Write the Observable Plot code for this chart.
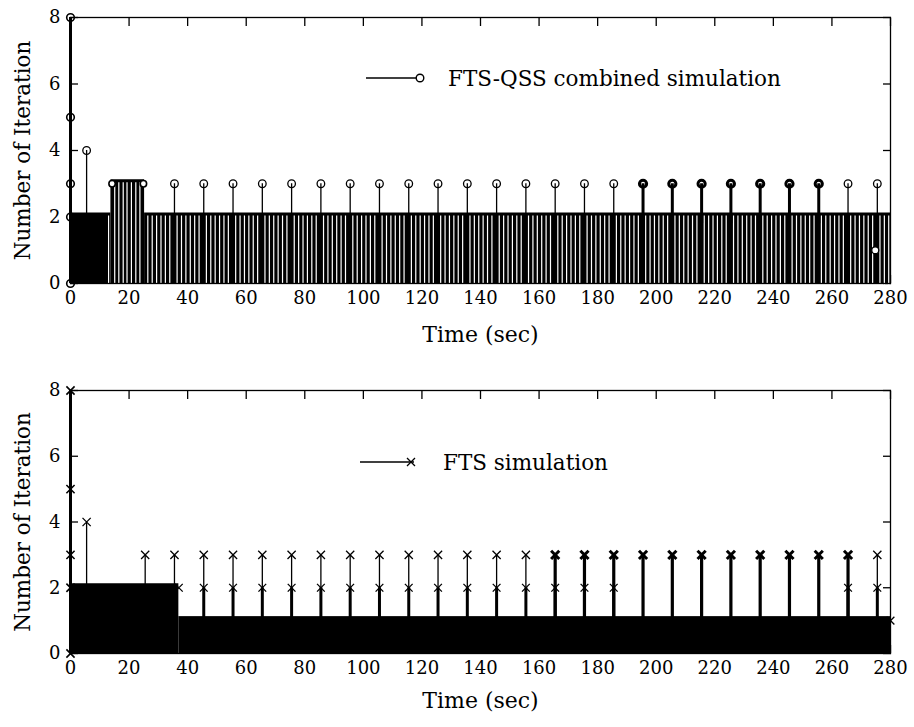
<!DOCTYPE html>
<html>
<head>
<meta charset="utf-8">
<script src="https://cdn.jsdelivr.net/npm/d3@7"></script>
<script src="https://cdn.jsdelivr.net/npm/@observablehq/plot@0.6"></script>
<style>
  body { margin: 0; background: #fff; }
  #wrap { position: relative; width: 914px; height: 727px; font-family: "DejaVu Serif", serif; color: #000; }
  #wrap > svg { position: absolute; left: 0; }
  .legend { position: absolute; display: flex; align-items: center; font-size: 21.5px; font-family: "DejaVu Serif", serif; color: #000; white-space: nowrap; }
  .legend svg { display: block; overflow: visible; }
</style>
</head>
<body>
<div id="wrap"></div>
<script>
// ---------- shared ticks ----------
const xTicks = [0, 20, 40, 60, 80, 100, 120, 140, 160, 180, 200, 220, 240, 260, 280];
const yTicks = [0, 2, 4, 6, 8];
const xLabel = "Time (sec)";
const yLabel = "Number of Iteration";

// ---------- top panel: FTS-QSS combined simulation ----------
const topLegend = "FTS-QSS combined simulation";
const topBlockStart = [0, 13.8, 25.3];      // dense stems (seen as filled area)
const topBlockEnd   = [13.8, 25.3, 280];
const topBlockLevel = [2, 3, 2];
const topPeakEnds   = [14.2, 24.9];          // first/last markers of the dense level-3 run
const topStartValues = [8, 5, 3, 2, 0];      // iterations at t = 0
const topEarlyTime = [5.5];
const topEarlyValue = [4];
const topStem3 = [35.5, 45.5, 55.5, 65.5, 75.5, 85.5, 95.5, 105.5, 115.5, 125.5, 135.5,
                  145.5, 155.5, 165.5, 175.5, 185.5, 265.5, 275.5];
const topStem3Double = [195.5, 205.5, 215.5, 225.5, 235.5, 245.5, 255.5];
const topLowTime = [274.8];
const topLowValue = [1];
// gaps between the dense stems
const topGapFixed = [13.0, 15.1, 16.5, 18.0, 19.3, 20.8, 22.3, 23.7];
const topCycleStart = [25.5, 35.5, 45.5, 55.5, 65.5, 75.5, 85.5, 95.5, 105.5, 115.5, 125.5,
                       135.5, 145.5, 155.5, 165.5, 175.5, 185.5, 195.5, 205.5, 215.5, 225.5,
                       235.5, 245.5, 255.5, 265.5, 275.5];
const topCycleGapOffset = [0.9, 2.4, 3.9, 5.4, 6.9, 8.4];

// ---------- bottom panel: FTS simulation ----------
const botLegend = "FTS simulation";
const botBlockStart = [0, 37];
const botBlockEnd   = [37, 280];
const botBlockLevel = [2, 1];
const botStartValues = [8, 5, 3, 2, 0];
const botEarlyTime = [5.5];
const botEarlyValue = [4];
const botStem3 = [25.5, 35.5, 45.5, 55.5, 65.5, 75.5, 85.5, 95.5, 105.5, 115.5, 125.5,
                  135.5, 145.5, 155.5, 275.5];
const botStem3Double = [165.5, 175.5, 185.5, 195.5, 205.5, 215.5, 225.5, 235.5, 245.5, 255.5, 265.5];
const botStem2 = [45.5, 55.5, 65.5, 75.5, 85.5, 95.5, 105.5, 115.5, 125.5, 135.5, 145.5,
                  155.5, 165.5, 175.5, 185.5, 265.5, 275.5];
const botEdgeTime = [37, 280];
const botEdgeValue = [2, 1];

// ---------- helpers ----------
function blocks(starts, ends, levels) {
  return starts.map((s, i) => ({x1: s, x2: ends[i], y: levels[i]}));
}
function levelAt(bl, t) {
  const b = bl.find(d => t >= d.x1 && t < d.x2);
  return b ? b.y : 0;
}

const topBlocks = blocks(topBlockStart, topBlockEnd, topBlockLevel);
const botBlocks = blocks(botBlockStart, botBlockEnd, botBlockLevel);
const topGaps = [
  ...topGapFixed,
  ...topCycleStart.flatMap(c => topCycleGapOffset.map(o => c + o))
].filter(t => t < 280).map(t => ({t, top: levelAt(topBlocks, t)}));

const FONT = '"DejaVu Serif", serif';

function frameMarks() {
  return [
    Plot.axisX({anchor: "bottom", ticks: xTicks, tickSize: -8, tickPadding: 16, label: null, fontSize: 18, strokeWidth: 1.3}),
    Plot.axisX({anchor: "top", ticks: xTicks, tickSize: -8, tickFormat: () => "", label: null, strokeWidth: 1.3}),
    Plot.axisY({anchor: "left", ticks: yTicks, tickSize: -8, tickPadding: 18, label: null, fontSize: 18, strokeWidth: 1.3}),
    Plot.axisY({anchor: "right", ticks: yTicks, tickSize: -8, tickFormat: () => "", label: null, strokeWidth: 1.3})
  ];
}

function panel(opts, marks, labelDy) {
  return Plot.plot({
    width: 914,
    height: opts.height,
    marginTop: opts.marginTop,
    marginBottom: opts.marginBottom,
    marginLeft: 70,
    marginRight: 24,
    x: {domain: [0, 280]},
    y: {domain: [0, 8]},
    style: {fontFamily: FONT, fontSize: "18px", color: "#000", background: "transparent", overflow: "visible"},
    marks: [
      ...frameMarks(),
      ...marks,
      Plot.frame({stroke: "#000", strokeWidth: 1.3}),
      Plot.text([yLabel], {text: d => d, frameAnchor: "left", dx: -47, rotate: -90, textAnchor: "middle", lineAnchor: "middle", fontSize: 21.5}),
      Plot.text([xLabel], {text: d => d, frameAnchor: "bottom", dy: labelDy, textAnchor: "middle", lineAnchor: "middle", fontSize: 22})
    ]
  });
}

// ---------- top ----------
const topSvg = panel({height: 360, marginTop: 17, marginBottom: 77}, [
  Plot.rect(topBlocks, {x1: "x1", x2: "x2", y1: 0, y2: "y", fill: "#000", insetTop: -4}),
  Plot.ruleX(topGaps, {x: "t", y1: 0, y2: "top", stroke: "#fff", strokeWidth: 1.2, insetTop: 4, insetBottom: 1}),
  Plot.dot(topPeakEnds, {x: d => d, y: 3, r: 3.2, stroke: "#000", strokeWidth: 1.6, fill: "#fff"}),
  Plot.ruleX([0], {x: d => d, y1: 0, y2: d3.max(topStartValues), strokeWidth: 3}),
  Plot.dot(topStartValues, {x: 0, y: d => d, r: 3.8, stroke: "#000", strokeWidth: 1.6, fill: "none"}),
  Plot.ruleX(topEarlyTime, {x: d => d, y1: 0, y2: (d, i) => topEarlyValue[i], strokeWidth: 1.3}),
  Plot.dot(topEarlyTime, {x: d => d, y: (d, i) => topEarlyValue[i], r: 3.8, stroke: "#000", strokeWidth: 1.3, fill: "none"}),
  Plot.ruleX(topStem3, {x: d => d, y1: 1.8, y2: 3, strokeWidth: 1.3}),
  Plot.dot(topStem3, {x: d => d, y: 3, r: 3.8, stroke: "#000", strokeWidth: 1.3, fill: "none"}),
  Plot.ruleX(topStem3Double, {x: d => d, y1: 1.8, y2: 3, strokeWidth: 3}),
  Plot.dot(topStem3Double, {x: d => d, y: 3, r: 3.6, stroke: "#000", strokeWidth: 3, fill: "none"}),
  Plot.dot(topLowTime, {x: d => d, y: (d, i) => topLowValue[i], r: 3.5, stroke: "#000", strokeWidth: 1.3, fill: "#fff"})
], 51);
topSvg.style.top = "0px";

// ---------- bottom ----------
const botSvg = panel({height: 367, marginTop: 30, marginBottom: 74}, [
  Plot.rect(botBlocks, {x1: "x1", x2: "x2", y1: 0, y2: "y", fill: "#000", insetTop: -4}),
  Plot.ruleX([0], {x: d => d, y1: 0, y2: d3.max(botStartValues), strokeWidth: 3}),
  Plot.dot(botStartValues, {x: 0, y: d => d, symbol: "times", r: 3.8, stroke: "#000", strokeWidth: 1.6}),
  Plot.ruleX(botEarlyTime, {x: d => d, y1: 0, y2: (d, i) => botEarlyValue[i], strokeWidth: 1.3}),
  Plot.dot(botEarlyTime, {x: d => d, y: (d, i) => botEarlyValue[i], symbol: "times", r: 3.8, stroke: "#000", strokeWidth: 1.3}),
  Plot.ruleX(botStem3, {x: d => d, y1: 1, y2: 3, strokeWidth: 1.3}),
  Plot.dot(botStem3, {x: d => d, y: 3, symbol: "times", r: 3.8, stroke: "#000", strokeWidth: 1.3}),
  Plot.ruleX(botStem3Double, {x: d => d, y1: 1, y2: 3, strokeWidth: 3.2}),
  Plot.dot(botStem3Double, {x: d => d, y: 3, symbol: "times", r: 3.8, stroke: "#000", strokeWidth: 3}),
  Plot.ruleX(botStem2, {x: d => d, y1: 1, y2: 2, strokeWidth: 3}),
  Plot.dot(botStem2, {x: d => d, y: 2, symbol: "times", r: 3.6, stroke: "#000", strokeWidth: 1.3}),
  Plot.dot(botEdgeTime, {x: d => d, y: (d, i) => botEdgeValue[i], symbol: "times", r: 3.6, stroke: "#000", strokeWidth: 1.3})
], 47);
botSvg.style.top = "360px";

const wrap = document.getElementById("wrap");
wrap.appendChild(topSvg);
wrap.appendChild(botSvg);

// ---------- legends (MATLAB-style: line + marker + label) ----------
function legend(left, centerY, label, symbol, gap) {
  const div = document.createElement("div");
  div.className = "legend";
  div.style.left = left + "px";
  div.style.top = (centerY - 14) + "px";
  div.style.height = "28px";
  const ns = "http://www.w3.org/2000/svg";
  const s = document.createElementNS(ns, "svg");
  s.setAttribute("width", 60); s.setAttribute("height", 28);
  s.style.marginRight = gap + "px";
  const g = d3.select(s);
  g.append("line").attr("x1", 2).attr("x2", 56).attr("y1", 14).attr("y2", 14).attr("stroke", "#000").attr("stroke-width", 1.5);
  if (symbol === "circle") {
    g.append("circle").attr("cx", 56).attr("cy", 14).attr("r", 3.8).attr("fill", "#fff").attr("stroke", "#000").attr("stroke-width", 1.4);
  } else {
    g.append("path").attr("d", "M52,10L60,18M52,18L60,10").attr("transform", "translate(-3,0)").attr("stroke", "#000").attr("stroke-width", 1.3);
  }
  div.appendChild(s);
  const span = document.createElement("span");
  span.textContent = label;
  div.appendChild(span);
  wrap.appendChild(div);
}
legend(364, 78, topLegend, "circle", 24);
legend(358, 462, botLegend, "times", 25);
</script>
</body>
</html>
